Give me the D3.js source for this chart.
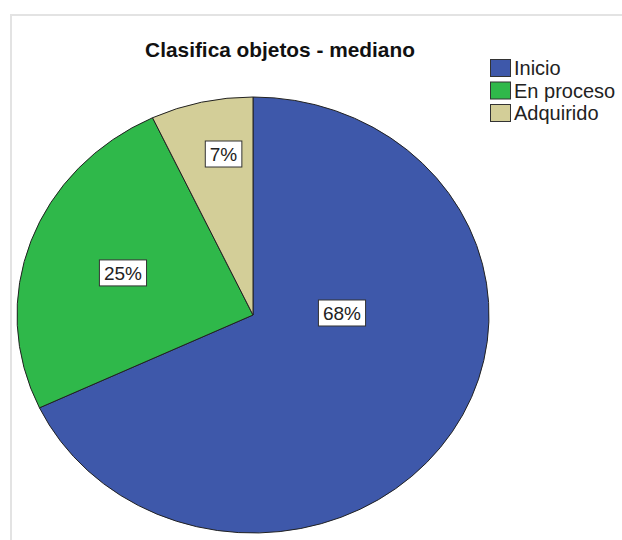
<!DOCTYPE html>
<html>
<head>
<meta charset="utf-8">
<script src="https://cdn.jsdelivr.net/npm/d3@7"></script>
<style>
  body { margin: 0; background: #fff; }
  svg { display: block; font-family: "Liberation Sans", Arial, sans-serif; }
</style>
</head>
<body>
<script>
const width = 622;
const height = 540;

// Data
const categories = ["Inicio", "En proceso", "Adquirido"];
const percents = [68, 25, 7];
const colors = ["#3e58aa", "#2fb84a", "#d3ce98"];
const title = "Clasifica objetos - mediano";

// Layout of the ellipse-shaped pie
const cx = 253, cy = 315, rx = 236, ry = 218;
// where the % boxes sit: fraction of radius and angle shift (deg) from slice middle
const labelFrac = [0.377, 0.584, 0.749];
const labelShift = [-33.8, -0.5, 3];

const svg = d3.select("body")
  .append("svg")
  .attr("width", width)
  .attr("height", height)
  .attr("viewBox", [0, 0, width, height]);

// light frame round the chart
svg.append("path")
  .attr("d", `M11,540 V15 H622`)
  .attr("fill", "none")
  .attr("stroke", "#e3e3e3")
  .attr("stroke-width", 2);

// title, a bit stretched sideways like the source image
svg.append("text")
  .attr("transform", "translate(280,57) scale(1.08,1)")
  .attr("text-anchor", "middle")
  .attr("font-size", 19.3)
  .attr("font-weight", "bold")
  .attr("fill", "#111")
  .text(title);

const pie = d3.pie().sort(null).value(d => d);
const arcs = pie(percents);
const arc = d3.arc().innerRadius(0).outerRadius(rx);

const g = svg.append("g")
  .attr("transform", `translate(${cx},${cy}) scale(1,${ry / rx})`);

g.selectAll("path")
  .data(arcs)
  .enter()
  .append("path")
  .attr("d", arc)
  .attr("fill", (d, i) => colors[i])
  .attr("stroke", "#222")
  .attr("stroke-width", 1)
  .attr("vector-effect", "non-scaling-stroke");

// % labels in white boxes
const labels = svg.selectAll(".lbl")
  .data(arcs)
  .enter()
  .append("g")
  .attr("class", "lbl")
  .attr("transform", (d, i) => {
    const a = (d.startAngle + d.endAngle) / 2 + labelShift[i] * Math.PI / 180;
    const x = cx + labelFrac[i] * rx * Math.sin(a);
    const y = cy - labelFrac[i] * ry * Math.cos(a);
    return `translate(${x},${y})`;
  });

labels.append("text")
  .attr("text-anchor", "middle")
  .attr("dy", "0.36em")
  .attr("font-size", 19)
  .attr("fill", "#222")
  .text(d => d.data + "%");

labels.each(function() {
  const t = d3.select(this).select("text");
  const b = t.node().getBBox();
  d3.select(this).insert("rect", "text")
    .attr("x", b.x - 4.5)
    .attr("y", -13)
    .attr("width", b.width + 9)
    .attr("height", 26)
    .attr("fill", "#fff")
    .attr("stroke", "#333")
    .attr("stroke-width", 1);
});

// Legend
const legend = svg.append("g")
  .attr("transform", "translate(490,59)");

const rows = legend.selectAll("g")
  .data(categories)
  .enter()
  .append("g")
  .attr("transform", (d, i) => `translate(0,${i * 22.5})`);

rows.append("rect")
  .attr("x", 0.5)
  .attr("y", 0.5)
  .attr("width", 20)
  .attr("height", 17)
  .attr("fill", (d, i) => colors[i])
  .attr("stroke", "#333")
  .attr("stroke-width", 1);

rows.append("text")
  .attr("x", 24)
  .attr("y", 16)
  .attr("font-size", 20)
  .attr("fill", "#222")
  .text(d => d);
</script>
</body>
</html>
